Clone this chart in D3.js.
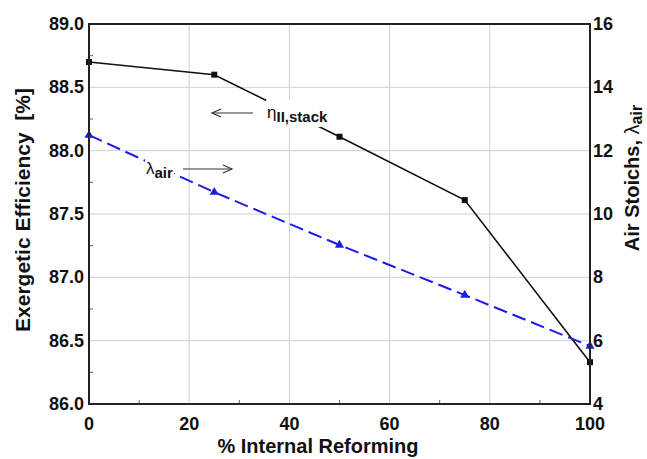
<!DOCTYPE html>
<html><head><meta charset="utf-8">
<script src="https://cdn.jsdelivr.net/npm/d3@7/dist/d3.min.js"></script>
<style>body{margin:0;background:#fff}text{font-family:"Liberation Sans",Arial,sans-serif}</style>
</head><body><svg id="c" width="647" height="459"></svg>
<script>
const reforming = [0, 25, 50, 75, 100];
const exergeticEff = [88.70, 88.60, 88.11, 87.61, 86.33];
const airStoichs = [12.49, 10.69, 9.02, 7.44, 5.83];
const xTicks = [0, 20, 40, 60, 80, 100];
const yLeftTicks = [86.0, 86.5, 87.0, 87.5, 88.0, 88.5, 89.0];
const yRightTicks = [4, 6, 8, 10, 12, 14, 16];

const W = 647, H = 459, m = {l: 89, r: 57, t: 24, b: 55};
const svg = d3.select("#c");
const x = d3.scaleLinear().domain([0, 100]).range([m.l, W - m.r]);
const yL = d3.scaleLinear().domain([86, 89]).range([H - m.b, m.t]);
const yR = d3.scaleLinear().domain([4, 16]).range([H - m.b, m.t]);

// grid
const g = svg.append("g");
g.selectAll(".gx").data(xTicks.slice(1, -1)).enter().append("line")
  .attr("x1", d => x(d)).attr("x2", d => x(d)).attr("y1", m.t).attr("y2", H - m.b)
  .attr("stroke", "#d0d0d0").attr("stroke-width", 1);
g.selectAll(".gy").data(yLeftTicks.slice(1, -1)).enter().append("line")
  .attr("y1", d => yL(d)).attr("y2", d => yL(d)).attr("x1", m.l).attr("x2", W - m.r)
  .attr("stroke", "#d0d0d0").attr("stroke-width", 1);

// minor ticks (inward)
const minorY = d3.range(86.25, 89, 0.5);
g.selectAll(".my").data(minorY).enter().append("line")
  .attr("x1", m.l).attr("x2", m.l + 4).attr("y1", d => yL(d)).attr("y2", d => yL(d))
  .attr("stroke", "#666").attr("stroke-width", 1);
const minorX = d3.range(10, 100, 20);
g.selectAll(".mx").data(minorX).enter().append("line")
  .attr("x1", d => x(d)).attr("x2", d => x(d)).attr("y1", H - m.b).attr("y2", H - m.b - 4)
  .attr("stroke", "#666").attr("stroke-width", 1);

// black line
const effData = reforming.map((r, i) => [r, exergeticEff[i]]);
svg.append("path").datum(effData)
  .attr("d", d3.line().x(d => x(d[0])).y(d => yL(d[1])))
  .attr("fill", "none").attr("stroke", "#111").attr("stroke-width", 1.6);
svg.selectAll(".sq").data(effData).enter().append("rect")
  .attr("x", d => x(d[0]) - 3).attr("y", d => yL(d[1]) - 3).attr("width", 6).attr("height", 6)
  .attr("fill", "#111");

// blue dashed line
const airData = reforming.map((r, i) => [r, airStoichs[i]]);
svg.append("path").datum(airData)
  .attr("d", d3.line().x(d => x(d[0])).y(d => yR(d[1])))
  .attr("fill", "none").attr("stroke", "#1c1ce6").attr("stroke-width", 2)
  .attr("stroke-dasharray", "14,6");
svg.selectAll(".tri").data(airData).enter().append("path")
  .attr("d", d3.symbol().type(d3.symbolTriangle).size(36))
  .attr("transform", d => `translate(${x(d[0])},${yR(d[1])})`)
  .attr("fill", "#1c1ce6");

// annotation labels with white backgrounds
function label(tx, ty, main, sub) {
  const t = svg.append("text").attr("x", tx).attr("y", ty).attr("font-size", 17).attr("fill", "#111");
  t.append("tspan").text(main);
  t.append("tspan").attr("dy", 4).attr("font-size", 15).attr("font-weight", "bold").text(sub);
  const bb = t.node().getBBox();
  svg.insert("rect", function(){ return t.node(); })
    .attr("x", bb.x - 1).attr("y", bb.y - 3).attr("width", bb.width + 2).attr("height", bb.height + 5)
    .attr("fill", "#fff");
}
label(267, 118, "η", "II,stack");
label(146, 174, "λ", "air");

// arrows
function arrow(x1, y1, x2, y2) {
  svg.append("line").attr("x1", x1).attr("y1", y1).attr("x2", x2).attr("y2", y2)
    .attr("stroke", "#333").attr("stroke-width", 1.2);
  const dir = Math.sign(x2 - x1);
  svg.append("path").attr("d", `M${x2 - dir*9},${y2 - 4}L${x2},${y2}L${x2 - dir*9},${y2 + 4}`)
    .attr("fill", "none").attr("stroke", "#333").attr("stroke-width", 1.2);
}
arrow(253, 113, 212, 113);
arrow(183, 169, 232, 169);

// frame
svg.append("rect").attr("x", m.l).attr("y", m.t).attr("width", W - m.l - m.r).attr("height", H - m.t - m.b)
  .attr("fill", "none").attr("stroke", "#222").attr("stroke-width", 2);

// axes labels
const fs = 18;
svg.selectAll(".xl").data(xTicks).enter().append("text")
  .attr("x", d => x(d)).attr("y", 430).attr("text-anchor", "middle")
  .attr("font-size", fs).attr("font-weight", "bold").attr("fill", "#111").text(d => d);
svg.selectAll(".yl").data(yLeftTicks).enter().append("text")
  .attr("x", m.l - 5).attr("y", d => yL(d) + 6).attr("text-anchor", "end")
  .attr("font-size", fs).attr("font-weight", "bold").attr("fill", "#111").text(d => d.toFixed(1));
svg.selectAll(".yr").data(yRightTicks).enter().append("text")
  .attr("x", W - m.r + 3).attr("y", d => yR(d) + 6).attr("text-anchor", "start")
  .attr("font-size", fs).attr("font-weight", "bold").attr("fill", "#111").text(d => d);

// titles
svg.append("text").attr("x", 318).attr("y", 453).attr("text-anchor", "middle")
  .attr("font-size", 20).attr("font-weight", "bold").attr("fill", "#111").text("% Internal Reforming");
svg.append("text").attr("transform", "translate(30,210) rotate(-90)").attr("text-anchor", "middle")
  .attr("font-size", 21).attr("font-weight", "bold").attr("fill", "#111")
  .attr("xml:space", "preserve").text("Exergetic Efficiency  [%]");
const rt = svg.append("text").attr("transform", "translate(639,178) rotate(-90)").attr("text-anchor", "middle")
  .attr("font-size", 20).attr("font-weight", "bold").attr("fill", "#111");
rt.append("tspan").text("Air Stoichs, ");
rt.append("tspan").attr("font-weight", "normal").text("λ");
rt.append("tspan").attr("dy", 3).attr("font-size", 16).text("air");
</script></body></html>
